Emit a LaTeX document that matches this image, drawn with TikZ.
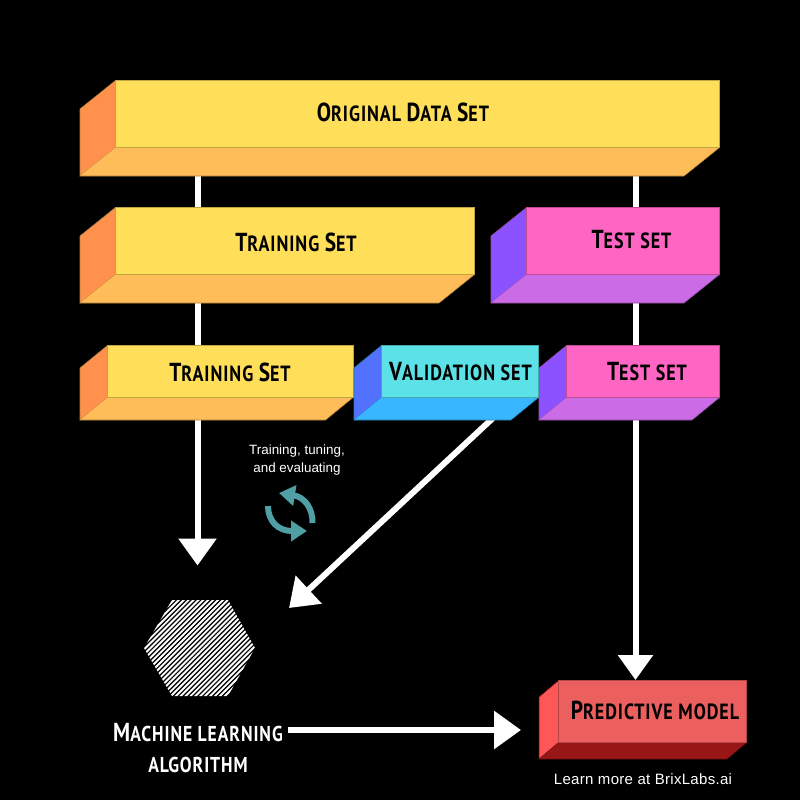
\documentclass[tikz,border=0pt]{standalone}
\usepackage{fontspec}
\setmainfont{Liberation Sans}
\newfontfamily\disp[FakeStretch=0.82,LetterSpace=4.4]{PT Sans}
\usetikzlibrary{arrows.meta,calc}
\newcommand\bl[1]{{\fontsize{26}{26}\selectfont #1}}
\definecolor{ylw}{HTML}{FFDE59}\definecolor{org}{HTML}{FF914D}\definecolor{lor}{HTML}{FFBD59}
\definecolor{pnk}{HTML}{FF66C4}\definecolor{prp}{HTML}{8C52FF}\definecolor{lil}{HTML}{CB6CE6}
\definecolor{cyn}{HTML}{5CE1E6}\definecolor{blu}{HTML}{5271FF}\definecolor{sky}{HTML}{38B6FF}
\definecolor{rdf}{HTML}{EC5F5F}\definecolor{rds}{HTML}{FF5757}\definecolor{rdb}{HTML}{991616}
\definecolor{tea}{HTML}{4F9FA5}
\newcommand\cube[9]{%
  \fill[#9] (#2,#3) -- (#2-#6,#3+#7) -- (#2-#6,#5+#7) -- (#2,#5) -- cycle;
  \draw[faceedge] (#2,#3) -- (#2-#6,#3+#7) -- (#2-#6,#5+#7) -- (#2,#5);
  \fill[\boxlow] (#2,#5) -- (#4,#5) -- (#4-#6,#5+#7) -- (#2-#6,#5+#7) -- cycle;
  \draw[faceedge] (#4,#5) -- (#4-#6,#5+#7) -- (#2-#6,#5+#7);
  \path[fill=#8,draw=black!25!#8,line width=.7pt] (#2,#3) rectangle (#4,#5);
  \coordinate (#1) at ({(#2+#4)/2},{(#3+#5)/2});
}
\tikzset{
  faceedge/.style={draw=black!30!\boxlow,line width=.6pt},
  flow/.style={draw=white,line width=6pt,-{Triangle[length=27pt,width=37pt]}},
  heading/.style={inner sep=0pt,text=black,font=\disp\bfseries\fontsize{22}{24}\selectfont},
  whead/.style={inner sep=0pt,text=white,align=center,font=\disp\bfseries\fontsize{21.5}{31}\selectfont},
  small/.style={inner sep=0pt,text=white,align=center,font=\fontsize{13.4}{18}\selectfont},
  cyc/.style={draw=tea,line width=6pt,-{Triangle[length=16pt,width=20pt,fill=tea]}}
}
\begin{document}
\begin{tikzpicture}[x=1pt,y=-1pt]
\useasboundingbox (0,0) rectangle (800,800);
\fill[black] (0,0) rectangle (800,800);
\coordinate (a1s) at (197.5,170);
\coordinate (a1e) at (197.5,565.5);
\coordinate (a2s) at (635.5,170);
\coordinate (a2e) at (635.5,680);
\coordinate (a3s) at (493,418);
\coordinate (a3e) at (289,608);
\coordinate (a4s) at (288,730);
\coordinate (a4e) at (521,730);
\node[whead,anchor=center] (mla) at (198,748) {{\bl{M}ACHINE LEARNING}\\{ALGORITHM}};
\draw[flow] (a1s) -- (a1e);
\draw[flow,-{Triangle[length=25pt,width=34pt]}] (a2s) -- (a2e);
\draw[flow] (a3s) -- (a3e);
\draw[flow] (a4s) -- (a4e);
\def\boxlow{lor}
\cube{orig}{115.5}{80.5}{719.5}{147.5}{35.5}{28.5}{ylw}{org}
\cube{trainA}{115.5}{207.5}{474.5}{274.5}{35.5}{28.5}{ylw}{org}
\cube{trainB}{107.5}{345.5}{353}{397.5}{27.5}{22.5}{ylw}{org}
\def\boxlow{lil}
\cube{testA}{526.5}{207.5}{719.5}{274.5}{35.5}{28.5}{pnk}{prp}
\cube{testB}{566.5}{345.5}{719.5}{397.5}{27.5}{22.5}{pnk}{prp}
\def\boxlow{sky}
\cube{val}{381.5}{345.5}{538.5}{397.5}{27.5}{22.5}{cyn}{blu}
\def\boxlow{rdb}
\cube{pred}{558.5}{680.5}{746.5}{742.5}{19.5}{16.5}{rdf}{rds}
\node[heading] (t1) at (403,112) {\bl{O}RIGINAL \bl{D}ATA \bl{S}ET};
\node[heading] (t2) at (296,242) {\bl{T}RAINING \bl{S}ET};
\node[heading] (t3) at (631.5,240) {\bl{T}EST SET};
\node[heading] (t4) at (230,372) {\bl{T}RAINING \bl{S}ET};
\node[heading] (t5) at (460.5,372) {\bl{V}ALIDATION SET};
\node[heading] (t6) at (647,372) {\bl{T}EST SET};
\node[heading] (t7) at (655,710) {\bl{P}REDICTIVE MODEL};
\node[small] (cap) at (297,460) {Training, tuning,\\and evaluating};
\draw[cyc] (312.5,523) .. controls (313,508) and (304,497) .. (279,493);
\draw[cyc] (268,506) .. controls (268,521) and (278,531) .. (307,531);
\begin{scope}
\clip (144,648) -- (172,600) -- (228,600) -- (255,648) -- (228,696) -- (172,696) -- cycle;
\foreach \k in {0,...,60}{\draw[white,line width=1.9pt] ({10+\k*4.9},710) -- ({10+\k*4.9+120},590);}
\end{scope}
\node[inner sep=0pt] (hex) at (199.5,648) {};
\node[small,font=\fontsize{15}{18}\selectfont,text=white] (more) at (643,779) {\addfontfeature{LetterSpace=2}Learn more at BrixLabs.ai};
\end{tikzpicture}
\end{document}
